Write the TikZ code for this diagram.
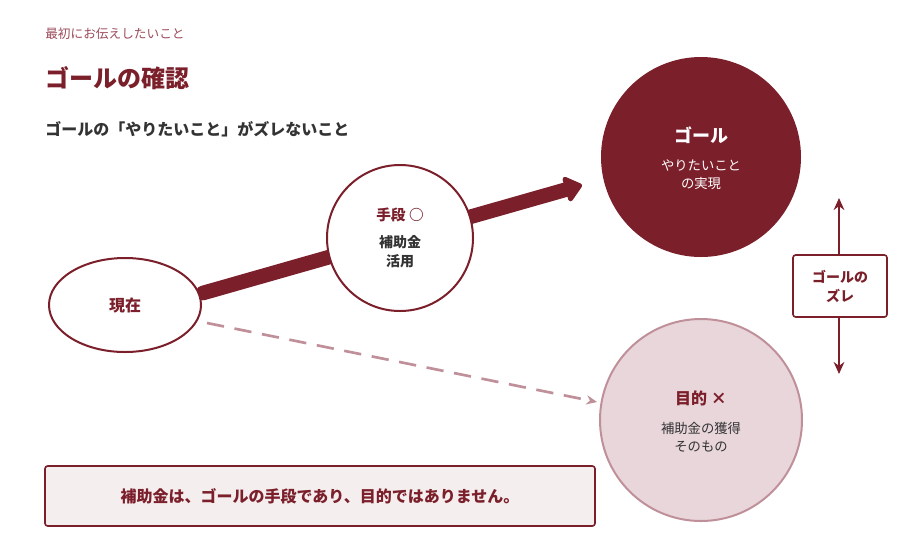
\documentclass[tikz,border=0pt]{standalone}
\usepackage{fontspec}
\setmainfont{Noto Sans CJK JP}
\usetikzlibrary{arrows.meta,shapes.geometric}
\definecolor{wine}{HTML}{7B1F2B}
\definecolor{muted}{HTML}{9B4A5A}
\definecolor{pinkf}{HTML}{E8D6DA}
\definecolor{pinkb}{HTML}{C0909A}
\definecolor{boxf}{HTML}{F5EEEE}
\definecolor{txt}{HTML}{333333}
\begin{document}
\begin{tikzpicture}[x=0.75pt,y=-0.75pt,
  hd/.style={anchor=west,inner sep=0},
  fs/.style={font={\pgfmathsetmacro\bsk{#1*1.35}\fontsize{#1}{\bsk}\selectfont}}]
\useasboundingbox (0,0) rectangle (906,544);
\node[hd,text=muted,fs=9.5] (t1) at (45,34) {最初にお伝えしたいこと};
\node[hd,text=wine,fs=18] (t2) at (45,78) {\bfseries ゴールの確認};
\node[hd,text=txt,fs=12] (t3) at (45,129) {\bfseries ゴールの「やりたいこと」がズレないこと};
% goal
\node[circle,fill=wine,minimum size=200*0.75pt,inner sep=0] (goal) at (701,157) {};
\node[text=white,fs=13.5] (gt) at (701,135) {\bfseries ゴール};
\node[text=white,align=center,fs=10] (gs) at (701,175) {やりたいこと\\の実現};
% main arrow
\coordinate (s) at (203,293);
\coordinate (e) at (582,185);
\draw[wine,line width=11pt,line cap=round,-{Triangle[length=14pt,width=22pt,round]}] (s) -- (e);
% purpose
\node[circle,fill=pinkf,draw=pinkb,line width=1.5pt,minimum size=202*0.75pt,inner sep=0] (pur) at (701,420) {};
\node[text=wine,fs=12] (pt) at (701,398) {\bfseries 目的 ×};
\node[text=txt,align=center,fs=10] (ps) at (701,437) {補助金の獲得\\そのもの};
% now
\node[ellipse,draw=wine,line width=1.5pt,fill=white,minimum width=152*0.75pt,minimum height=94*0.75pt,text=wine,fs=12] (now) at (125,305) {\bfseries 現在};
% means
\node[circle,draw=wine,line width=1.5pt,fill=white,minimum size=146*0.75pt,inner sep=0] (mean) at (400,238) {};
\node[text=wine,fs=11] (mt) at (400,215) {\bfseries 手段 ○};
\node[text=txt,align=center,fs=10.5] (ms) at (400,252) {\bfseries 補助金\\\bfseries 活用};
% dashed
\coordinate (d1) at (207,323);
\coordinate (d2) at (597,402);
\draw[pinkb,line width=2pt,dash pattern=on 13pt off 8pt,-{Stealth[length=8pt,width=7pt]}] (d1) -- (d2);
% gap arrow
\coordinate (u) at (839,198);
\coordinate (l) at (839,374);
\draw[wine,line width=1.8pt,{Stealth[length=9pt,width=8pt]}-{Stealth[length=9pt,width=8pt]}] (u) -- (l);
\node[draw=wine,line width=1.2pt,fill=white,rounded corners=2pt,minimum width=94*0.75pt,minimum height=62*0.75pt,align=center,text=wine,fs=10.5] (gap) at (840,286) {\bfseries ゴールの\\\bfseries ズレ};
% bottom
\node[draw=wine,line width=1.2pt,fill=boxf,rounded corners=2pt,minimum width=550*0.75pt,minimum height=60*0.75pt,text=wine,fs=12] (note) at (320,496) {\bfseries 補助金は、ゴールの手段であり、目的ではありません。};
\end{tikzpicture}
\end{document}
